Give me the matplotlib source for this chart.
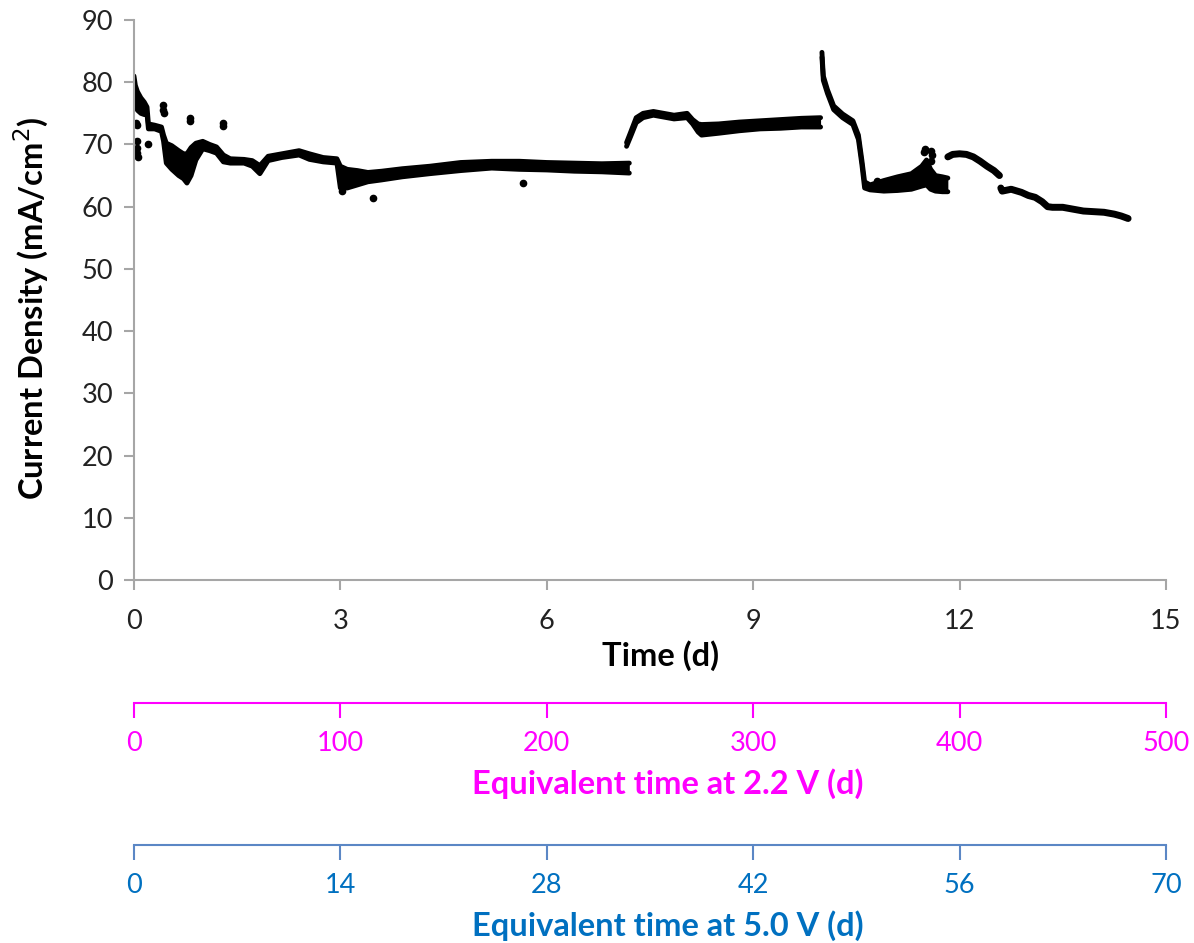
import matplotlib.pyplot as plt

plt.rcParams['font.family'] = ['Lato', 'DejaVu Sans']

# Trechos ruidosos: tempo (d), limite superior e inferior da faixa (mA/cm2)
seg1_t = [0.00, 0.02, 0.05, 0.10, 0.15, 0.19, 0.21, 0.30, 0.40, 0.43, 0.47, 0.55,
          0.65, 0.72, 0.77, 0.83, 0.90, 1.00, 1.10, 1.20, 1.30, 1.40, 1.60, 1.72,
          1.83, 1.95, 2.15, 2.40, 2.55, 2.75, 2.95, 3.00, 3.10, 3.25, 3.40, 3.60,
          3.90, 4.30, 4.75, 5.20, 5.60, 6.00, 6.40, 6.80, 7.20]
seg1_hi = [81.0, 79.5, 78.5, 77.5, 76.8, 76.0, 73.3, 73.1, 72.8, 71.5, 70.2, 69.8,
           69.0, 68.5, 68.5, 69.5, 70.2, 70.5, 70.0, 69.6, 68.3, 67.7, 67.6, 67.4,
           66.6, 68.1, 68.5, 69.0, 68.5, 67.9, 67.7, 66.5, 66.0, 65.8, 65.5, 65.7,
           66.1, 66.5, 67.1, 67.3, 67.3, 67.1, 67.0, 66.9, 67.0]
seg1_lo = [79.0, 76.5, 75.5, 75.0, 74.8, 74.8, 72.5, 72.5, 72.1, 70.5, 67.0, 66.0,
           65.0, 64.5, 63.8, 65.0, 67.5, 69.3, 69.0, 68.6, 67.2, 67.0, 67.0, 66.5,
           65.3, 67.4, 67.9, 68.3, 67.6, 67.2, 67.0, 63.0, 63.0, 63.5, 64.0, 64.3,
           64.8, 65.3, 65.8, 66.2, 66.0, 65.9, 65.7, 65.6, 65.4]

seg2_t = [7.16, 7.22, 7.30, 7.40, 7.55, 7.70, 7.85, 8.04, 8.12, 8.20, 8.25, 8.50,
          8.80, 9.10, 9.40, 9.70, 9.98]
seg2_hi = [70.3, 72.0, 74.3, 75.0, 75.3, 75.0, 74.7, 75.0, 74.0, 73.3, 73.2, 73.3,
           73.6, 73.8, 74.0, 74.2, 74.3]
seg2_lo = [69.7, 71.3, 73.5, 74.3, 74.7, 74.4, 74.1, 74.3, 73.3, 72.0, 71.5, 71.8,
           72.2, 72.5, 72.6, 72.8, 72.8]

seg3_t = [10.00, 10.02, 10.08, 10.17, 10.30, 10.45, 10.53, 10.58, 10.62, 10.70,
          10.90, 11.10, 11.30, 11.45, 11.52, 11.58, 11.65, 11.75, 11.83]
seg3_hi = [84.8, 81.0, 78.8, 76.2, 74.9, 73.8, 71.5, 67.5, 64.0, 63.5,
           64.2, 64.8, 65.3, 66.5, 67.5, 66.0, 65.0, 64.8, 64.6]
seg3_lo = [84.0, 80.3, 78.2, 75.6, 74.3, 73.2, 70.8, 66.8, 63.0, 62.7,
           62.5, 62.6, 62.8, 63.3, 63.5, 62.8, 62.5, 62.4, 62.4]

# Trechos suaves
seg4_t = [11.83, 11.90, 12.00, 12.10, 12.20, 12.30, 12.40, 12.50, 12.58]
seg4_c = [68.0, 68.4, 68.5, 68.4, 68.0, 67.3, 66.5, 65.8, 65.0]

seg5_t = [12.60, 12.62, 12.75, 12.90, 13.00, 13.10, 13.20, 13.28, 13.35, 13.50,
          13.65, 13.80, 13.95, 14.10, 14.25, 14.35, 14.45]
seg5_c = [63.0, 62.5, 62.8, 62.3, 61.8, 61.5, 60.8, 60.0, 59.9, 59.9,
          59.6, 59.3, 59.2, 59.1, 58.8, 58.5, 58.1]

# Pontos isolados
out_t = [0.05, 0.05, 0.05, 0.06, 0.03, 0.04, 0.20, 0.42, 0.42, 0.43, 0.81, 0.81,
         1.30, 1.30, 3.02, 3.47, 5.65, 11.48, 11.50, 11.58, 11.60, 11.58, 10.80]
out_c = [70.5, 69.5, 68.7, 68.0, 73.5, 73.2, 70.0, 76.3, 75.6, 75.0, 74.3, 73.7,
         73.5, 72.9, 62.5, 61.4, 63.8, 68.8, 69.3, 68.9, 68.3, 67.3, 64.2]

eixo_22v = [0, 100, 200, 300, 400, 500]
eixo_50v = [0, 14, 28, 42, 56, 70]

cinza = '#a6a6a6'
magenta = '#ff00ff'
azul = '#0070c0'

fig = plt.figure(figsize=(11.94, 9.43), dpi=100)
ax = fig.add_axes([0.1122, 0.3849, 0.8643, 0.5939])

for t, hi, lo in [(seg1_t, seg1_hi, seg1_lo), (seg2_t, seg2_hi, seg2_lo),
                  (seg3_t, seg3_hi, seg3_lo)]:
    ax.fill_between(t, lo, hi, color='black', lw=0)
    ax.plot(t, hi, color='black', lw=3.5, solid_capstyle='round', solid_joinstyle='round')
    ax.plot(t, lo, color='black', lw=3.5, solid_capstyle='round', solid_joinstyle='round')
for t, c in [(seg4_t, seg4_c), (seg5_t, seg5_c)]:
    ax.plot(t, c, color='black', lw=5, solid_capstyle='round', solid_joinstyle='round')
ax.plot(out_t, out_c, 'o', color='black', ms=4.5, ls='none')

ax.set_xlim(0, 15)
ax.set_ylim(0, 90)
ax.set_xticks(range(0, 16, 3))
ax.set_yticks(range(0, 91, 10))
for s in ['top', 'right']:
    ax.spines[s].set_visible(False)
for s in ['left', 'bottom']:
    ax.spines[s].set_color(cinza)
    ax.spines[s].set_linewidth(1.5)
ax.tick_params(direction='out', length=7, width=1.5, color=cinza,
               labelsize=19.5, labelcolor='#222222')
ax.tick_params(axis='x', pad=14)
ax.tick_params(axis='y', pad=8)
ax.set_xlabel('Time (d)', fontsize=23.5, fontweight='bold', labelpad=4, x=0.51)
ax.set_ylabel('Current Density (mA/cm$^2$)', fontsize=23.5, fontweight='bold',
              labelpad=22, y=0.485)

# Eixos equivalentes
def eixo_extra(y0, ticks, cor_linha, cor_texto, titulo):
    a = fig.add_axes([0.1122, y0, 0.8643, 0.01])
    a.patch.set_visible(False)
    for s in ['top', 'right', 'left']:
        a.spines[s].set_visible(False)
    a.spines['bottom'].set_color(cor_linha)
    a.spines['bottom'].set_linewidth(1.5)
    a.set_yticks([])
    a.set_xlim(ticks[0], ticks[-1])
    a.set_xticks(ticks)
    a.tick_params(axis='x', direction='out', length=11, width=1.5, color=cor_linha,
                  labelsize=19.5, labelcolor=cor_texto, pad=9)
    a.set_xlabel(titulo, fontsize=23.5, fontweight='bold', color=cor_texto,
                 labelpad=9, x=0.517)
    return a

eixo_extra(1 - 703 / 943, eixo_22v, magenta, magenta, 'Equivalent time at 2.2 V (d)')
eixo_extra(1 - 845 / 943, eixo_50v, '#5b87c5', azul, 'Equivalent time at 5.0 V (d)')

plt.savefig('out.png', dpi=100)
